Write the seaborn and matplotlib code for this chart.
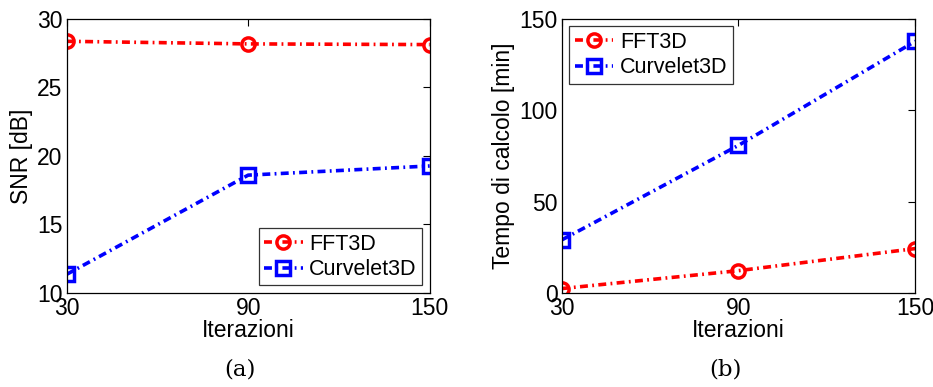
import matplotlib
matplotlib.use("Agg")
import matplotlib.pyplot as plt
import seaborn as sns
import pandas as pd

iterations = [30, 90, 150]
series_names = ["FFT3D", "Curvelet3D"]
snr_fft = [28.37, 28.18, 28.13]
snr_curv = [11.36, 18.6, 19.27]
time_fft = [2.4, 12.2, 24.3]
time_curv = [29.0, 80.8, 137.8]

sns.set_theme(style="white")
plt.rcParams['font.family'] = ['Liberation Sans', 'DejaVu Sans']
for k in ["text.color", "axes.labelcolor", "xtick.color", "ytick.color", "axes.edgecolor"]:
    plt.rcParams[k] = "black"

fig = plt.figure(figsize=(9.33, 3.87), dpi=100)
ax1 = fig.add_axes([0.0715, 0.243, 0.389, 0.708])
ax2 = fig.add_axes([0.602, 0.243, 0.379, 0.708])

styles = {"FFT3D": dict(color="#ff0000", marker="o"),
          "Curvelet3D": dict(color="#0000ff", marker="s")}

FS = 16.5
DASH = (2.2, 1.2, 0.5, 1.2)

def draw(ax, fft_vals, curv_vals, ylim, yticks, ylabel, legloc):
    for name, vals in zip(series_names, [fft_vals, curv_vals]):
        df = pd.DataFrame({"x": iterations, "y": vals})
        st = styles[name]
        sns.lineplot(data=df, x="x", y="y", ax=ax, color=st["color"],
                     marker=st["marker"], markersize=9.5, markeredgewidth=2.5,
                     markerfacecolor="none", markeredgecolor=st["color"],
                     linewidth=2.6, label=name)
        ax.lines[-1].set_dashes(DASH)
    ax.set_xlim(30, 150)
    ax.set_ylim(*ylim)
    ax.set_xticks(iterations)
    ax.set_yticks(yticks)
    ax.set_xlabel("Iterazioni", fontsize=FS, labelpad=-1)
    ax.set_ylabel(ylabel, fontsize=FS, labelpad=3)
    ax.tick_params(direction="in", top=True, right=True, length=5,
                   labelsize=FS, width=0.8, color="black", labelcolor="black", pad=3)
    for s in ax.spines.values():
        s.set_color("black")
        s.set_linewidth(0.9)
    leg = ax.legend(loc=legloc, fontsize=15.5, frameon=True, fancybox=False,
                    edgecolor="black", handlelength=1.8, borderpad=0.25,
                    labelspacing=0.2, handletextpad=0.3, borderaxespad=0.35)
    leg.get_frame().set_linewidth(0.9)
    for h in leg.get_lines():
        h.set_dashes(DASH)

draw(ax1, snr_fft, snr_curv, (10, 30), [10, 15, 20, 25, 30], "SNR [dB]", "lower right")
draw(ax2, time_fft, time_curv, (0, 150), [0, 50, 100, 150], "Tempo di calcolo [min]", "upper left")

fig.text(0.257, 0.044, "(a)", fontsize=16.5, family=["DejaVu Serif"], ha="center", va="center")
fig.text(0.778, 0.044, "(b)", fontsize=16.5, family=["DejaVu Serif"], ha="center", va="center")

fig.savefig("out.png", dpi=100)
